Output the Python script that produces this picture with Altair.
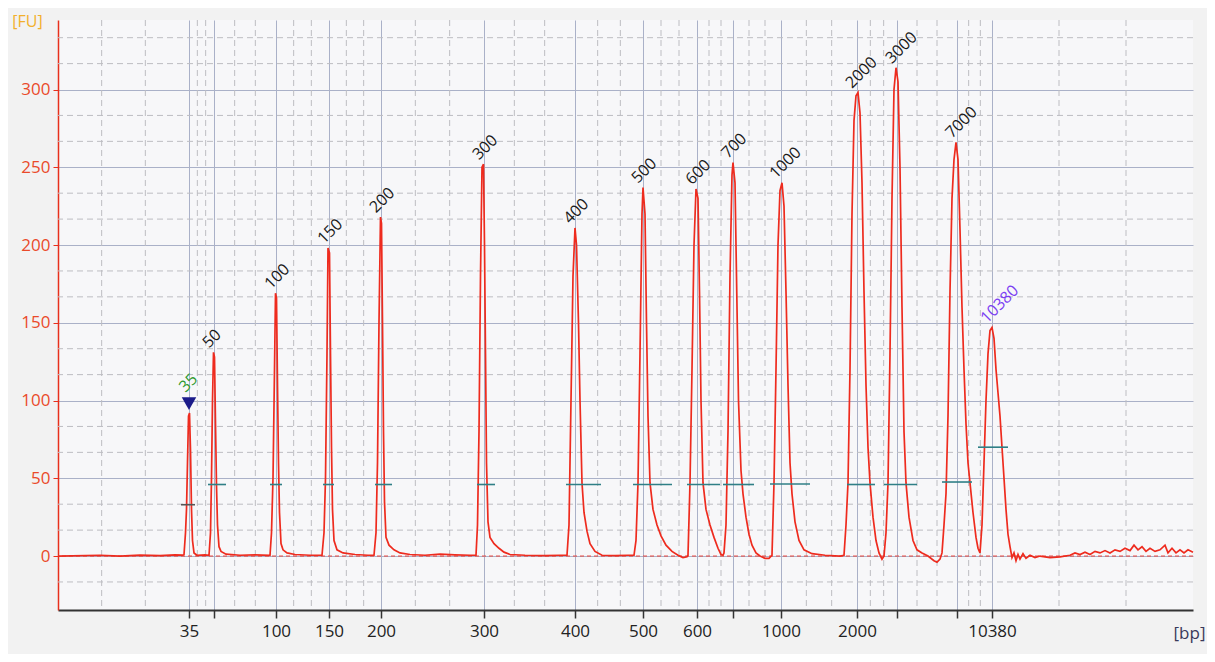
import altair as alt
import pandas as pd

# ---------------- data ----------------
# ladder sizes (bp), migration time of each ladder peak (s), peak height (FU)
ladder_bp = ["35", "50", "100", "150", "200", "300", "400", "500", "600", "700",
             "1000", "2000", "3000", "7000", "10380"]
ladder_time = [33.1, 35.6, 41.8, 47.1, 52.3, 62.6, 71.7, 78.5, 83.9, 87.5,
               92.3, 99.9, 103.9, 109.9, 113.4]
peak_fu = [92, 131, 169, 198, 218, 252, 211, 237, 236, 253, 240, 298, 314, 266, 147]
axis_label = ["35", "", "100", "150", "200", "300", "400", "500", "600", "",
              "1000", "2000", "", "", "10380"]
label_color = ["#2f9a2f"] + ["#1a1a1a"] * 13 + ["#7b3ff2"]

# electropherogram trace (time s, fluorescence FU)
trace_t = [20.0, 24.2, 26.2, 28.2, 30.2, 31.7, 32.5,
           32.6, 32.75, 32.85, 32.95, 33.05, 33.15, 33.25, 33.35, 33.45, 33.6, 33.9, 34.7,
           35.1, 35.25, 35.35, 35.45, 35.55, 35.65, 35.75, 35.85, 35.95, 36.1, 36.3, 36.8, 38.2, 39.7,
           41.2, 41.35, 41.5, 41.65, 41.75, 41.85, 41.95, 42.05, 42.15, 42.3, 42.5, 42.9, 43.7, 45.2,
           46.4, 46.6, 46.75, 46.9, 47.0, 47.15, 47.25, 47.35, 47.45, 47.6, 47.9, 48.5, 49.7, 51.0,
           51.6, 51.8, 51.95, 52.1, 52.25, 52.35, 52.45, 52.55, 52.65, 52.8, 53.1, 53.6, 54.2, 55.2,
           56.7, 58.2, 59.7, 61.2,
           61.8, 61.95, 62.1, 62.25, 62.4, 62.55, 62.65, 62.75, 62.85, 63.0, 63.2, 63.6, 64.1, 64.6,
           65.2, 66.7, 68.7, 70.2,
           70.9, 71.1, 71.3, 71.5, 71.7, 71.85, 72.05, 72.2, 72.4, 72.6, 72.9, 73.2, 73.7, 74.4,
           75.7, 77.0,
           77.6, 77.8, 78.0, 78.2, 78.4, 78.5, 78.7, 78.85, 79.0, 79.2, 79.5, 79.9, 80.3, 80.8,
           81.4, 82.0, 82.5, 82.9,
           83.0, 83.2, 83.4, 83.6, 83.8, 84.0, 84.15, 84.3, 84.5, 84.8, 85.2, 85.6, 86.0, 86.3, 86.5,
           86.6, 86.8, 87.0, 87.2, 87.4, 87.5, 87.7, 87.85, 88.05, 88.3, 88.5, 88.8, 89.1, 89.4,
           89.8, 90.2, 90.7, 91.1, 91.4,
           91.6, 91.8, 92.0, 92.2, 92.4, 92.6, 92.8, 93.0, 93.2, 93.4, 93.7, 94.1, 94.6, 95.4,
           96.7, 98.2,
           98.6, 98.8, 99.0, 99.2, 99.4, 99.6, 99.8, 100.0, 100.2, 100.4, 100.6, 100.8, 101.0,
           101.2, 101.5, 101.8, 102.1, 102.4, 102.6,
           102.8, 103.0, 103.2, 103.4, 103.6, 103.8, 104.0, 104.2, 104.4, 104.6, 104.8, 105.1,
           105.5, 105.9, 106.4, 107.0, 107.6, 107.9, 108.2,
           108.4, 108.6, 108.8, 109.0, 109.2, 109.4, 109.6, 109.8, 110.0, 110.2, 110.4, 110.6,
           110.8, 111.0, 111.2, 111.5, 111.8, 112.0, 112.2,
           112.4, 112.6, 112.8, 113.0, 113.2, 113.4, 113.6, 113.8, 114.0, 114.2, 114.4, 114.6,
           114.8, 115.0, 115.2, 115.4,
           115.6, 115.8, 116.0, 116.2, 116.5, 116.8, 117.2, 117.7, 118.2, 119.2, 120.2, 121.2,
           121.7, 122.2, 122.7, 123.2, 123.7, 124.2, 124.7, 125.2, 125.7, 126.2, 126.7, 127.2,
           127.6, 128.0, 128.4, 128.8, 129.2, 129.7, 130.2, 130.7, 131.0, 131.4, 131.8, 132.2,
           132.6, 133.0, 133.5]
trace_fu = [0, 0.5, 0, 0.6, 0.3, 0.8, 0.6,
            1, 15, 30, 60, 90, 92, 68, 30, 10, 2, 0.5, 0.8,
            0.5, 15, 50, 100, 131, 128, 85, 45, 20, 6, 3, 1.2, 0.5, 0.8,
            0.5, 15, 50, 120, 169, 166, 110, 60, 28, 8, 4, 2, 1, 0.5,
            0.5, 15, 50, 130, 198, 195, 130, 70, 30, 10, 4, 2, 1, 0.5,
            0.5, 15, 60, 150, 218, 214, 150, 80, 35, 12, 7, 4, 2, 1,
            0.5, 1.2, 0.8, 0.5,
            0.5, 20, 80, 180, 250, 252, 200, 130, 60, 22, 12, 8, 5, 2.5,
            1, 0.5, 0.3, 0.5,
            0.5, 20, 100, 180, 211, 200, 150, 100, 47, 28, 16, 8, 3, 0.5,
            0.3, 0.5,
            0.5, 10, 47, 130, 220, 237, 220, 150, 90, 47, 30, 20, 13, 7,
            3, 0.5, -1, -0.5,
            0.5, 47, 120, 200, 236, 230, 170, 100, 47, 30, 20, 12, 5, 1, 0.5,
            2, 20, 80, 180, 245, 253, 240, 180, 100, 55, 40, 25, 14, 7,
            2, 0, -1.5, -1.5, 0.5,
            47, 120, 200, 235, 240, 225, 170, 110, 60, 40, 22, 10, 4, 1.5,
            0.5, 0,
            0.5, 20, 47, 120, 220, 280, 296, 298, 285, 240, 170, 110, 70,
            47, 25, 10, 2, -2, 0,
            15, 47, 130, 230, 300, 314, 305, 250, 160, 80, 47, 25,
            10, 4, 2, 0, -3, -4, -2,
            2, 20, 40, 90, 170, 230, 255, 266, 255, 210, 160, 120,
            85, 60, 47, 28, 12, 5, 2,
            20, 60, 100, 130, 145, 147, 140, 120, 105, 90, 70, 50,
            30, 14, 6, -1,
            2, -3, 1, -2, 1.5, -1.5, 0.5, -1, 0, -1, -0.5, 0.5,
            2, 1, 2.5, 1, 3, 2, 3.5, 2, 4, 3, 5, 3.5,
            7, 4, 6, 3, 5, 3, 4, 7, 2, 5, 2, 4,
            2, 4, 2.5]

# peak window bars: start time, end time, level (FU)
bar_t1 = [32.3, 35.0, 41.2, 46.5, 51.7, 61.9, 70.8, 77.5, 82.9, 86.5, 91.2, 98.9, 102.6, 108.4, 112.0]
bar_t2 = [33.7, 36.8, 42.4, 47.6, 53.4, 63.7, 74.3, 81.4, 86.2, 89.6, 95.2, 101.7, 105.9, 111.4, 115.0]
bar_fu = [33, 46, 46, 46, 46, 46, 46, 46, 46, 46, 46.3, 46, 46, 47.6, 70]
bar_color = ["#555555"] + ["#2f7f86"] * 14

marker_fu = 98  # lower marker triangle on the 35 bp peak

x_domain = [20, 133.5]
y_domain = [-34.7, 344.7]

# ---------------- tables ----------------
trace = pd.DataFrame({"t": trace_t, "fu": trace_fu})
peaks = pd.DataFrame({"t": ladder_time, "fu": peak_fu, "bp": ladder_bp, "col": label_color})
bars = pd.DataFrame({"t1": bar_t1, "t2": bar_t2, "fu": bar_fu, "col": bar_color})

bounds = [x_domain[0]] + ladder_time + [x_domain[1]]
minor_x = []
for a, b in zip(bounds[:-1], bounds[1:]):
    minor_x += [a + (b - a) / 3, a + 2 * (b - a) / 3]
minor_y = [k * 50 / 3 for k in range(-1, 21) if k % 3 != 0]

W, H = 1135, 590
xs = alt.Scale(domain=x_domain, nice=False, zero=False)
ys = alt.Scale(domain=y_domain, nice=False, zero=False)

vals_js = "[" + ",".join(str(v) for v in ladder_time) + "]"
labs_js = "[" + ",".join("'" + s + "'" for s in axis_label) + "]"

x_axis = alt.Axis(values=ladder_time, labelExpr=labs_js + "[indexof(" + vals_js + ", datum.value)]",
                  grid=True, gridColor="#aab1c8", gridWidth=1,
                  domainColor="#333333", domainWidth=2, tickColor="#333333", tickSize=8,
                  tickWidth=1.5, labelColor="#222222", labelFontSize=17, labelFont="Open Sans",
                  labelPadding=5, labelFlush=False, labelOverlap=False,
                  title="[bp]", titleFont="Open Sans", titleFontSize=17, titleFontWeight="normal",
                  titleColor="#3a3a5a", titleX=1131, titleY=23, titleAlign="center",
                  titleBaseline="middle")
y_axis = alt.Axis(values=[0, 50, 100, 150, 200, 250, 300], grid=True, gridColor="#aab1c8",
                  gridWidth=1, domainColor="#e8301c", domainWidth=1.5, tickColor="#e8301c",
                  tickSize=5, labelColor="#ea4a2a", labelFontSize=17, labelFont="Open Sans",
                  labelPadding=3, title="[FU]", titleAngle=0, titleX=-31, titleY=1,
                  titleAlign="center", titleBaseline="middle", titleColor="#f2b02c",
                  titleFont="Open Sans", titleFontSize=16, titleFontWeight="normal")

base_axes = alt.Chart(trace).mark_line(opacity=0).encode(
    x=alt.X("t:Q", scale=xs, axis=x_axis),
    y=alt.Y("fu:Q", scale=ys, axis=y_axis),
)

grid_vx = alt.Chart(pd.DataFrame({"t": minor_x})).mark_rule(
    color="#bdbdc2", strokeDash=[6, 4], strokeWidth=1).encode(x=alt.X("t:Q", scale=xs))
grid_hy = alt.Chart(pd.DataFrame({"fu": minor_y})).mark_rule(
    color="#bdbdc2", strokeDash=[6, 4], strokeWidth=1).encode(y=alt.Y("fu:Q", scale=ys))

baseline = alt.Chart(pd.DataFrame({"fu": [0]})).mark_rule(
    color="#e8443a", strokeDash=[4, 3], strokeWidth=1).encode(y=alt.Y("fu:Q", scale=ys))

line = alt.Chart(trace).mark_line(color="#ee2b1e", strokeWidth=1.7, interpolate="linear").encode(
    x=alt.X("t:Q", scale=xs), y=alt.Y("fu:Q", scale=ys), order="t:Q")

win = alt.Chart(bars).mark_rule(strokeWidth=1.6).encode(
    x=alt.X("t1:Q", scale=xs), x2="t2:Q", y=alt.Y("fu:Q", scale=ys),
    color=alt.Color("col:N", scale=None))

tri = alt.Chart(pd.DataFrame({"t": [ladder_time[0]], "fu": [marker_fu]})).mark_point(
    shape="triangle-down", filled=True, size=210, color="#1b1b8a", opacity=1).encode(
    x=alt.X("t:Q", scale=xs), y=alt.Y("fu:Q", scale=ys))

lab = alt.Chart(peaks.iloc[1:]).mark_text(
    angle=315, align="left", baseline="alphabetic", dx=-1, dy=-6,
    fontSize=16, font="Open Sans").encode(
    x=alt.X("t:Q", scale=xs), y=alt.Y("fu:Q", scale=ys), text="bp:N",
    color=alt.Color("col:N", scale=None))

lab35 = alt.Chart(pd.DataFrame({"t": [ladder_time[0]], "fu": [marker_fu], "bp": [ladder_bp[0]],
                                "col": [label_color[0]]})).mark_text(
    angle=315, align="left", baseline="alphabetic", dx=5, dy=-10,
    fontSize=16, font="Open Sans").encode(
    x=alt.X("t:Q", scale=xs), y=alt.Y("fu:Q", scale=ys), text="bp:N",
    color=alt.Color("col:N", scale=None))

chart = alt.layer(base_axes, grid_vx, grid_hy, baseline, line, win, tri, lab, lab35).properties(
    width=W, height=H,
    autosize=alt.AutoSizeParams(type="none"),
    padding={"left": 50, "top": 12, "right": 14, "bottom": 44},
    background="#f2f2f2",
).configure_view(fill="#f7f7f9", stroke=None)

chart.save("out.html", embed_options={"renderer": "svg", "actions": False})
